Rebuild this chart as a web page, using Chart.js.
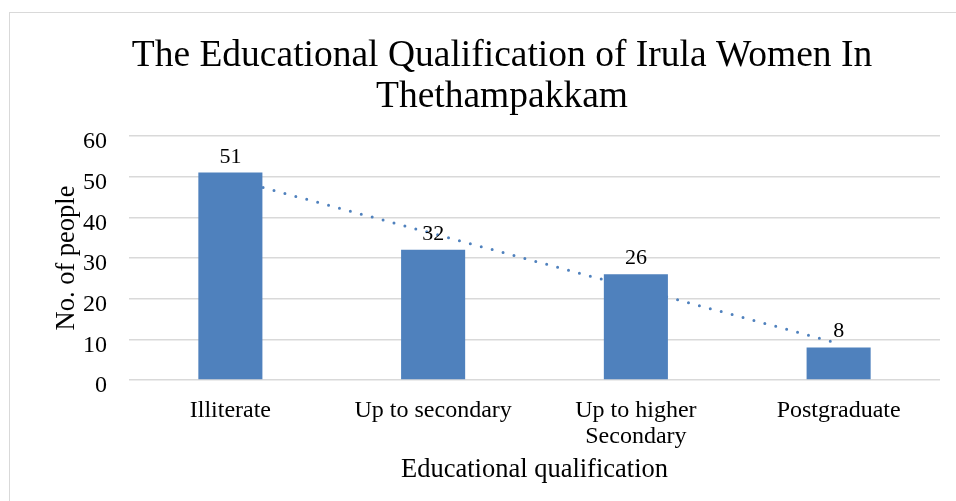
<!DOCTYPE html>
<html lang="en">
<head>
    <meta charset="UTF-8">
    <title>Educational Qualification of Irula Women</title>
    <script src="https://cdn.jsdelivr.net/npm/chart.js"></script>
    <style>
        body { margin: 0; background: #fff; overflow: hidden; }
        .frame { position: absolute; left: 9px; top: 12px; width: 1000px; height: 600px; border: 1.5px solid #d9d9d9; }
        #myChart { position: absolute; left: 0; top: 0; }
    </style>
</head>
<body>
    <div class="frame"></div>
    <canvas id="myChart" width="956" height="501"></canvas>

    <script>
        // Data
        const categories = ['Illiterate', 'Up to secondary', ['Up to higher', 'Secondary'], 'Postgraduate'];
        const people = [51, 32, 26, 8];
        const trendValues = [49.5, 36, 22.5, 9];   // linear trendline
        const yTicks = [0, 10, 20, 30, 40, 50, 60];

        const serif = "'Liberation Serif', 'Times New Roman', serif";
        const blue = '#4F81BD';

        // Value labels above the bars
        const barLabels = {
            id: 'barLabels',
            afterDatasetsDraw(chart) {
                const ctx = chart.ctx;
                const meta = chart.getDatasetMeta(0);
                ctx.save();
                ctx.font = '22px ' + serif;
                ctx.fillStyle = '#000';
                ctx.textAlign = 'center';
                ctx.textBaseline = 'alphabetic';
                meta.data.forEach((bar, i) => {
                    ctx.fillText(people[i], bar.x, bar.y - 10);
                });
                ctx.restore();
            }
        };

        const data = {
            labels: categories,
            datasets: [{
                type: 'bar',
                label: 'No. of people',
                data: people,
                backgroundColor: blue,
                barPercentage: 0.316,
                categoryPercentage: 1,
                order: 1
            }, {
                type: 'line',
                label: 'Linear trend',
                data: trendValues,
                borderColor: blue,
                borderWidth: 3,
                borderDash: [0, 11.3],
                borderCapStyle: 'round',
                pointRadius: 0,
                fill: false,
                order: 2
            }]
        };

        const config = {
            type: 'bar',
            data: data,
            options: {
                responsive: false,
                animation: false,
                layout: { padding: { left: 64, right: 16, top: 36, bottom: 15 } },
                plugins: {
                    legend: { display: false },
                    tooltip: { enabled: false },
                    title: {
                        display: true,
                        text: ['The Educational Qualification of Irula Women In', 'Thethampakkam'],
                        color: '#000',
                        font: { family: serif, size: 37.5, weight: 'normal', lineHeight: 1.08 },
                        padding: { top: 0, bottom: 19 }
                    }
                },
                scales: {
                    x: {
                        afterFit(axis) { axis.height = 106; },
                        grid: { display: false, drawTicks: false },
                        border: { display: false },
                        ticks: {
                            color: '#000',
                            font: { family: serif, size: 24, lineHeight: 1.08 },
                            padding: 18,
                            maxRotation: 0
                        },
                        title: {
                            display: true,
                            text: 'Educational qualification',
                            color: '#000',
                            font: { family: serif, size: 26.5 },
                            padding: { top: 3, bottom: 0 }
                        }
                    },
                    y: {
                        min: 0,
                        max: 60,
                        afterBuildTicks(axis) { axis.ticks = yTicks.map(v => ({ value: v })); },
                        afterFit(axis) { axis.width = 65; },
                        grid: { color: '#d9d9d9', lineWidth: 1.5, drawTicks: false },
                        border: { display: false },
                        ticks: {
                            color: '#000',
                            // empty first line + half line height pushes the number ~6px below its gridline
                            callback: v => ['', String(v)],
                            font: { family: serif, size: 24, lineHeight: 0.5 },
                            padding: 22
                        },
                        title: {
                            display: true,
                            text: 'No. of people',
                            color: '#000',
                            font: { family: serif, size: 26.5 },
                            padding: { top: -13, bottom: 0 }
                        }
                    }
                }
            },
            plugins: [barLabels]
        };

        var myChart = new Chart(document.getElementById('myChart'), config);
    </script>
</body>
</html>
